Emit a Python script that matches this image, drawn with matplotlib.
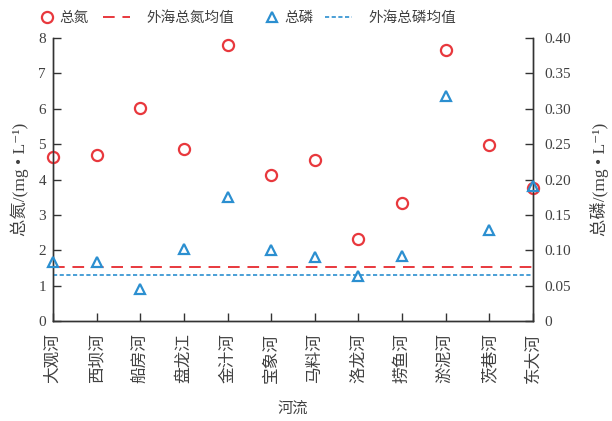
import matplotlib
matplotlib.use("Agg")
import matplotlib.pyplot as plt
from matplotlib.lines import Line2D

plt.rcParams['font.family'] = ['Liberation Serif', 'Noto Sans CJK SC', 'DejaVu Sans']

rivers = ['大观河', '西坝河', '船房河', '盘龙江', '金汁河', '宝象河',
          '马料河', '洛龙河', '捞鱼河', '淤泥河', '茨巷河', '东大河']
tn = [4.65, 4.68, 6.02, 4.85, 7.80, 4.13, 4.56, 2.31, 3.35, 7.65, 4.98, 3.77]
tp = [0.083, 0.083, 0.045, 0.102, 0.175, 0.100, 0.091, 0.063, 0.092, 0.318, 0.128, 0.191]
tn_sea_mean = 1.54
tp_sea_mean = 0.065

left_ticks = [0, 1, 2, 3, 4, 5, 6, 7, 8]
right_ticks = [0, 0.05, 0.10, 0.15, 0.20, 0.25, 0.30, 0.35, 0.40]
right_labels = ['0', '0.05', '0.10', '0.15', '0.20', '0.25', '0.30', '0.35', '0.40']

RED = '#e8383d'
BLUE = '#2b8fd0'
TXT = '#404040'
AX = '#333333'
CJK = ['Noto Sans CJK SC', 'DejaVu Sans']

fig = plt.figure(figsize=(6.12, 4.21), dpi=100)
ax = fig.add_axes([0.0866, 0.2375, 0.7844, 0.6722])
ax2 = ax.twinx()

x = list(range(len(rivers)))
circle_style = dict(linestyle='none', marker='o', markersize=8, markerfacecolor='none',
                    markeredgecolor=RED, markeredgewidth=1.6)
tri_style = dict(linestyle='none', marker='^', markersize=7.5, markerfacecolor='none',
                 markeredgecolor=BLUE, markeredgewidth=1.6)
tn_line = dict(color=RED, linestyle=(0, (6, 4)), linewidth=1.4)
tp_line = dict(color=BLUE, linestyle=(0, (2.5, 1.5)), linewidth=1.2)

ax.plot(x, tn, clip_on=False, zorder=5, **circle_style)
ax.axhline(tn_sea_mean, **tn_line)
ax2.plot(x, tp, clip_on=False, zorder=5, **tri_style)
ax2.axhline(tp_sea_mean, **tp_line)

ax.set_xlim(0, len(rivers) - 1)
ax.set_ylim(0, 8)
ax2.set_ylim(0, 0.4)

ax.set_xticks(x)
ax.set_xticklabels(rivers, rotation=90, family=CJK, fontsize=12, color=TXT)
ax.set_yticks(left_ticks)
ax.set_yticklabels([str(v) for v in left_ticks], fontsize=11, color=TXT)
ax2.set_yticks(right_ticks)
ax2.set_yticklabels(right_labels, fontsize=11, color=TXT)

for a in (ax, ax2):
    a.spines['top'].set_visible(False)
    for s in ('left', 'right', 'bottom'):
        a.spines[s].set_color(AX)
        a.spines[s].set_linewidth(1.0)
ax.tick_params(axis='both', direction='in', length=6, width=1, color=AX, pad=5)
ax2.tick_params(axis='y', direction='in', length=6, width=1, color=AX, pad=8)
ax.tick_params(axis='x', pad=9)

ax.set_xlabel('河流', family=CJK, fontsize=11, color=TXT, labelpad=12)
ax.set_ylabel('总氮/(mg • L⁻¹)', fontsize=12.5, color=TXT, labelpad=7)
ax2.set_ylabel('总磷/(mg • L⁻¹)', fontsize=12.5, color=TXT, labelpad=14)

# legend row above the plot, one entry per legend for per-item spacing
entries = [
    (Line2D([], [], **circle_style), '总氮', 40, 1.0, 0.35),
    (Line2D([], [], **tn_line), '外海总氮均值', 103, 1.85, 1.15),
    (Line2D([], [], **tri_style), '总磷', 265, 1.0, 0.35),
    (Line2D([], [], **tp_line), '外海总磷均值', 325, 1.85, 1.15),
]
W = 612.0
for handle, label, px, hl, tp_pad in entries:
    leg = fig.legend([handle], [label], loc='center left',
                     bbox_to_anchor=(px / W, 1 - 18 / 421.0),
                     frameon=False, prop={'family': CJK, 'size': 10.5},
                     handlelength=hl, handletextpad=tp_pad,
                     borderpad=0, borderaxespad=0)
    for t in leg.get_texts():
        t.set_color(TXT)

fig.savefig('out.png', dpi=100)
